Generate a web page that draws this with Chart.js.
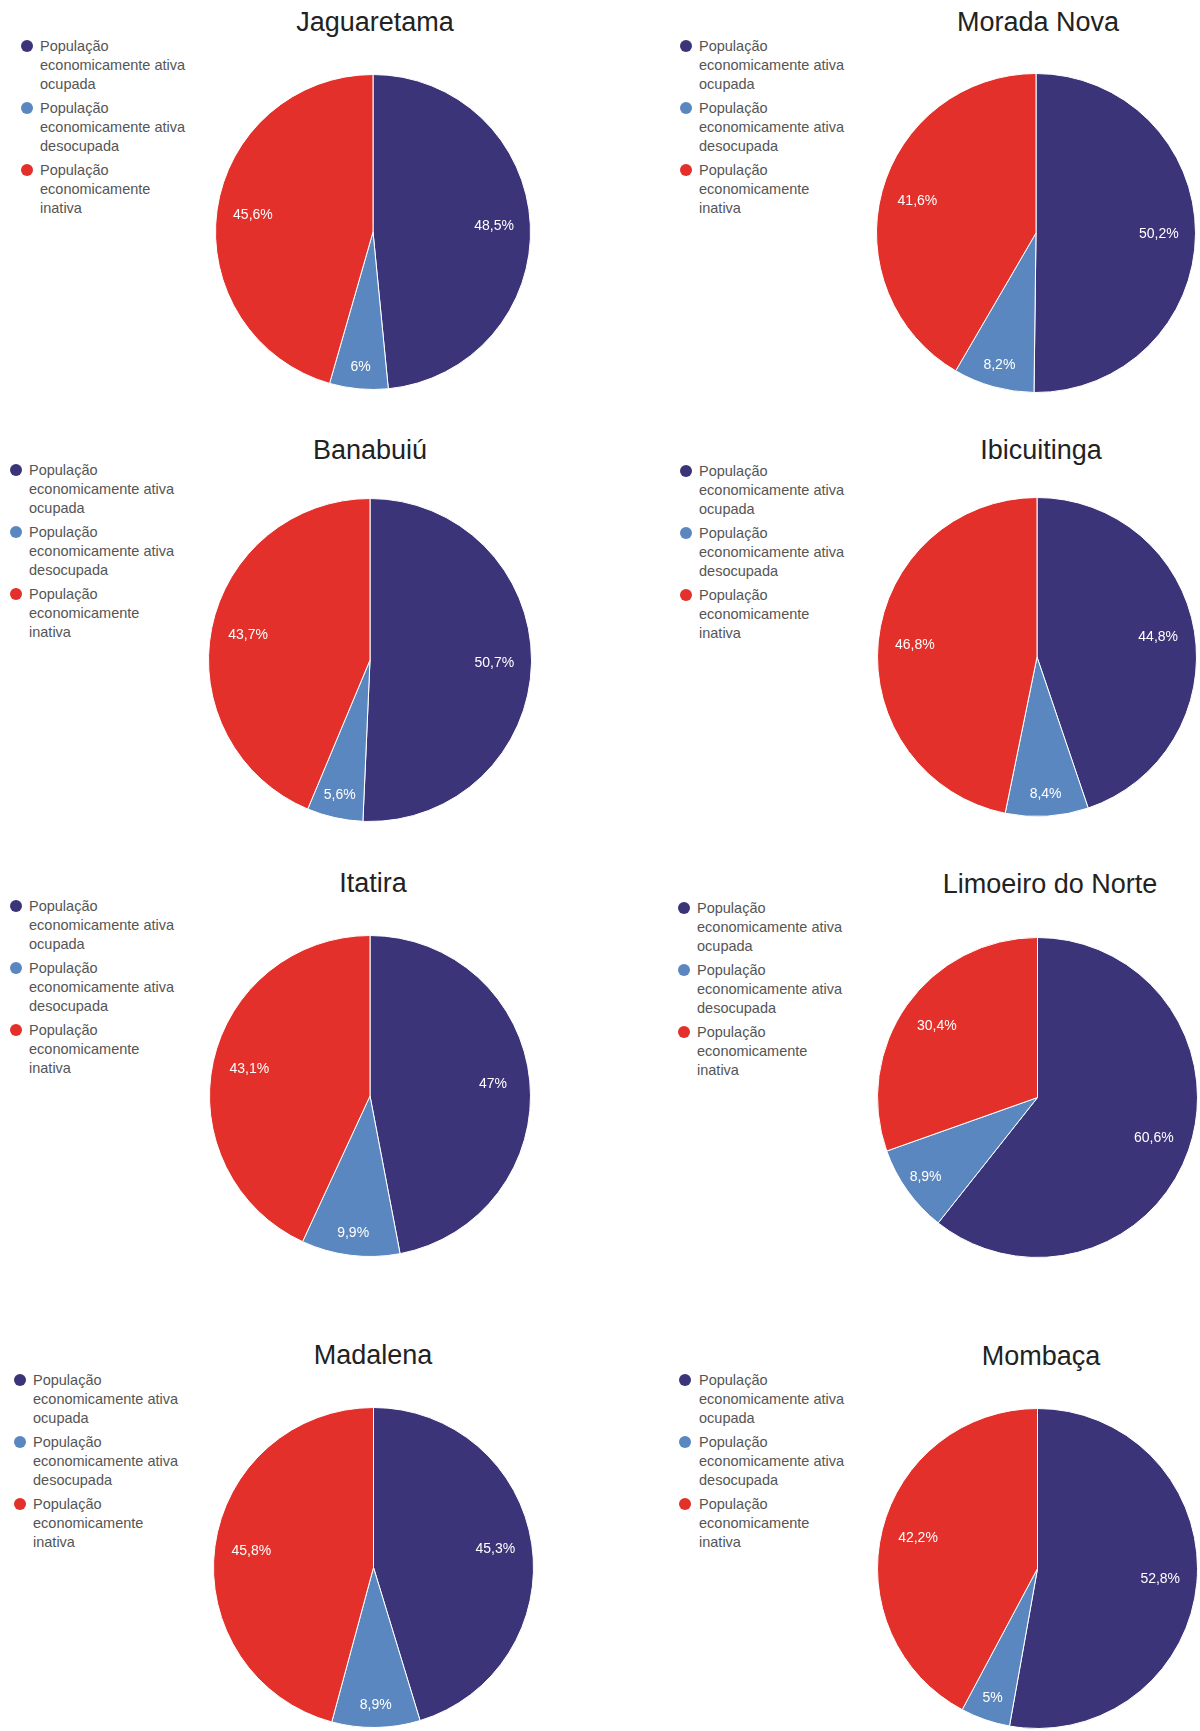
<!DOCTYPE html>
<html><head><meta charset="utf-8">
<script src="https://cdn.jsdelivr.net/npm/chart.js@4.4.1/dist/chart.umd.min.js"></script>
<style>
body{margin:0;background:#fff;width:1200px;height:1731px;position:relative;overflow:hidden;font-family:"Liberation Sans",Arial,sans-serif;}
.title{position:absolute;font-size:27px;color:#222;white-space:nowrap;transform:translate(-50%,-50%);line-height:32px;}
.leg{position:absolute;font-size:14.5px;line-height:19px;color:#555;white-space:nowrap;}
.dot{position:absolute;width:12px;height:12px;border-radius:50%;}
.pie{position:absolute;}
</style></head><body>
<script>
// ---- data ----
const municipios = ['Jaguaretama', 'Morada Nova', 'Banabuiú', 'Ibicuitinga', 'Itatira', 'Limoeiro do Norte', 'Madalena', 'Mombaça'];
const categorias = ['População economicamente ativa ocupada', 'População economicamente ativa desocupada', 'População economicamente inativa'];
const legendLines = [['População', 'economicamente ativa', 'ocupada'], ['População', 'economicamente ativa', 'desocupada'], ['População', 'economicamente', 'inativa']];
const ocupada   = [48.5, 50.2, 50.7, 44.8, 47.0, 60.6, 45.3, 52.8];
const desocupada= [6.0, 8.2, 5.6, 8.4, 9.9, 8.9, 8.9, 5.0];
const inativa   = [45.6, 41.6, 43.7, 46.8, 43.1, 30.4, 45.8, 42.2];

// ---- styles / layout ----
const cores = ['#3b3479', '#5b87c0', '#e3302a'];
const layout = [
  {tx:375, ty:22,  cx:373,  cy:232,  r:157, dx:26.5, lx:40,  ly:46},
  {tx:1038,ty:22,  cx:1036, cy:233,  r:159, dx:685.5,lx:699, ly:46},
  {tx:370, ty:450, cx:370,  cy:660,  r:161, dx:15.5, lx:29,  ly:470},
  {tx:1041,ty:450, cx:1037, cy:657,  r:159, dx:685.5,lx:699, ly:471},
  {tx:373, ty:883, cx:370,  cy:1096, r:160, dx:15.5, lx:29,  ly:906},
  {tx:1050,ty:884, cx:1037, cy:1097, r:159.5,dx:683.5,lx:697, ly:908},
  {tx:373, ty:1355,cx:373,  cy:1567, r:159.5,dx:20,   lx:33,  ly:1380},
  {tx:1041,ty:1356,cx:1037, cy:1568, r:159.5,dx:684.5,lx:699, ly:1380}
];
const itemGap = 62;

const fmt = v => String(v).replace('.', ',') + '%';

const labelPlugin = {
  id: 'sliceLabels',
  afterDatasetsDraw(chart) {
    const ctx = chart.ctx;
    const meta = chart.getDatasetMeta(0);
    const data = chart.data.datasets[0].data;
    ctx.save();
    ctx.font = '14px "Liberation Sans", Arial, sans-serif';
    ctx.fillStyle = '#ffffff';
    ctx.textAlign = 'center';
    ctx.textBaseline = 'middle';
    meta.data.forEach((arc, i) => {
      const p = arc.getProps(['x', 'y', 'startAngle', 'endAngle', 'outerRadius'], true);
      const mid = (p.startAngle + p.endAngle) / 2;
      const f = data[i] < 15 ? 0.86 : 0.77;
      ctx.fillText(fmt(data[i]), p.x + Math.cos(mid) * p.outerRadius * f, p.y + Math.sin(mid) * p.outerRadius * f);
    });
    ctx.restore();
  }
};

municipios.forEach((nome, k) => {
  const L = layout[k];
  const t = document.createElement('div');
  t.className = 'title';
  t.style.left = L.tx + 'px';
  t.style.top = L.ty + 'px';
  t.textContent = nome;
  document.body.appendChild(t);

  legendLines.forEach((lines, i) => {
    const y = L.ly + i * itemGap;
    const d = document.createElement('div');
    d.className = 'dot';
    d.style.left = (L.dx - 6) + 'px';
    d.style.top = (y - 6) + 'px';
    d.style.background = cores[i];
    document.body.appendChild(d);
    const tx = document.createElement('div');
    tx.className = 'leg';
    tx.style.left = L.lx + 'px';
    tx.style.top = (y - 9.5) + 'px';
    tx.innerHTML = lines.join('<br>');
    tx.title = categorias[i];
    document.body.appendChild(tx);
  });

  const size = Math.round(2 * L.r + 2);
  const box = document.createElement('div');
  box.className = 'pie';
  box.style.left = (L.cx - size / 2) + 'px';
  box.style.top = (L.cy - size / 2) + 'px';
  box.style.width = size + 'px';
  box.style.height = size + 'px';
  const cv = document.createElement('canvas');
  box.appendChild(cv);
  document.body.appendChild(box);

  new Chart(cv, {
    type: 'pie',
    data: {
      labels: categorias,
      datasets: [{
        data: [ocupada[k], desocupada[k], inativa[k]],
        backgroundColor: cores,
        borderColor: '#ffffff',
        borderWidth: 1
      }]
    },
    options: {
      responsive: true,
      maintainAspectRatio: false,
      animation: false,
      events: [],
      layout: { padding: 0 },
      plugins: { legend: { display: false }, tooltip: { enabled: false }, title: { display: false } }
    },
    plugins: [labelPlugin]
  });
});
</script>
</body></html>
